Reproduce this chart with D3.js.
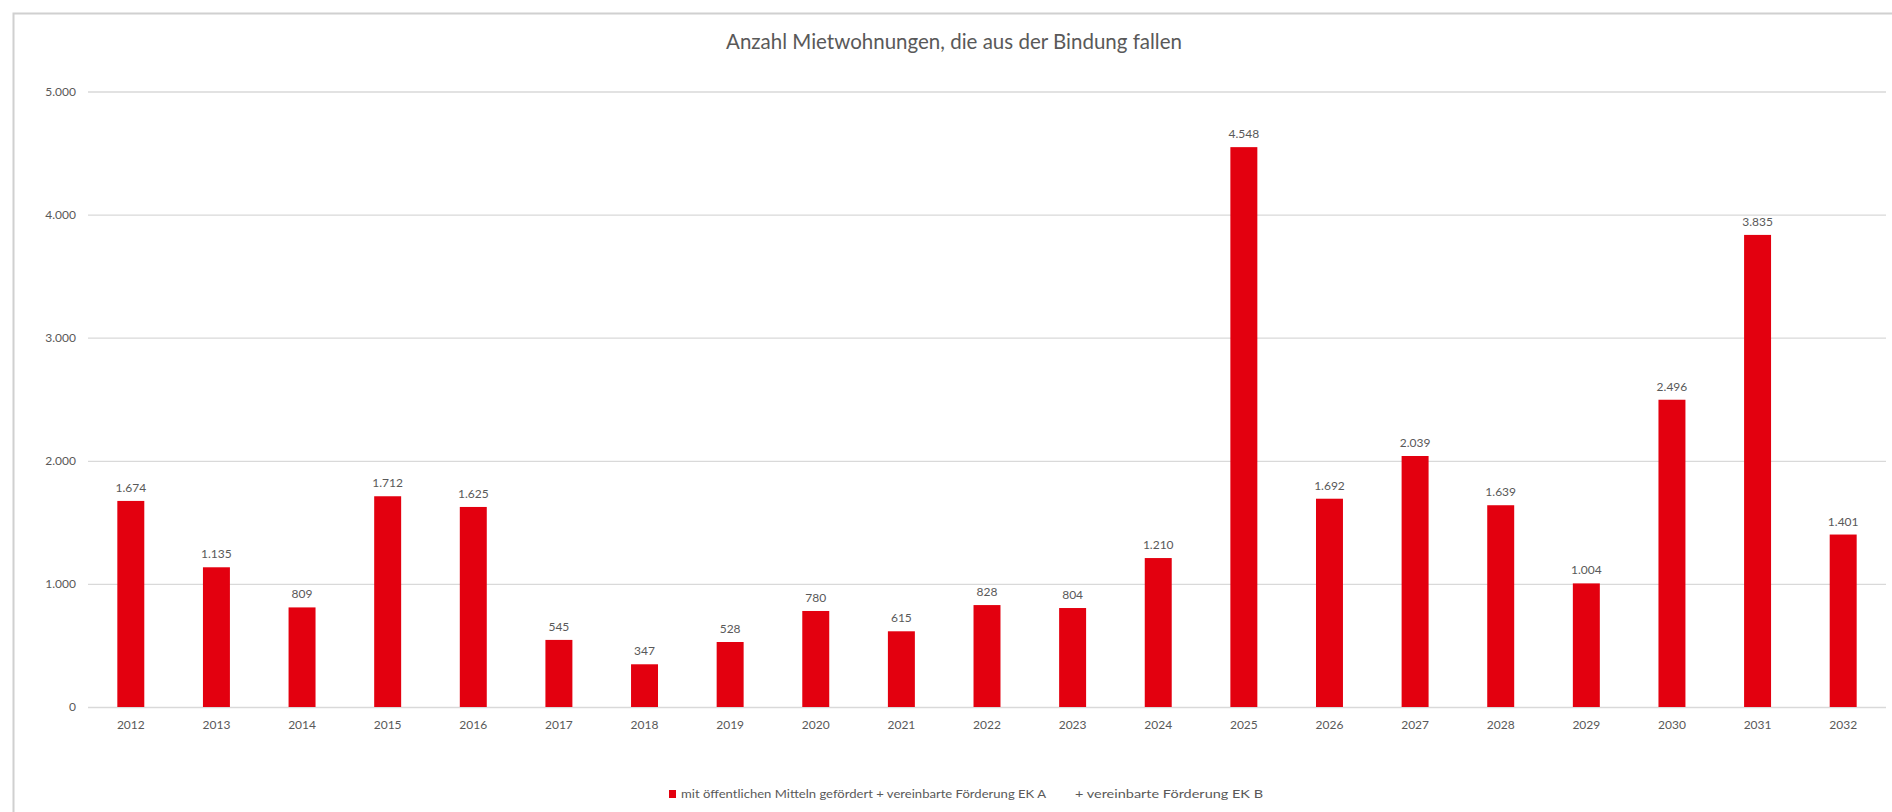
<!DOCTYPE html>
<html>
<head>
<meta charset="utf-8">
<script src="https://d3js.org/d3.v7.min.js"></script>
<style>
  body { margin: 0; background: #fff; }
  svg { display: block; font-family: Lato, "Open Sans", sans-serif; }
</style>
</head>
<body>
<svg width="1892" height="812"></svg>
<script>
// data
const years = ["2012","2013","2014","2015","2016","2017","2018","2019","2020","2021","2022",
               "2023","2024","2025","2026","2027","2028","2029","2030","2031","2032"];
const units = [1674, 1135, 809, 1712, 1625, 545, 347, 528, 780, 615, 828,
               804, 1210, 4548, 1692, 2039, 1639, 1004, 2496, 3835, 1401];
const yTicks = [0, 1000, 2000, 3000, 4000, 5000];
const titleText = "Anzahl Mietwohnungen, die aus der Bindung fallen";
const legendLabels = ["mit öffentlichen Mitteln gefördert + vereinbarte Förderung EK A",
                      "+ vereinbarte Förderung EK B"];

const de = d3.formatLocale({decimal: ",", thousands: ".", grouping: [3], currency: ["", " €"]});
const fmt = de.format(",");

const svg = d3.select("svg");
const width = +svg.attr("width");
const height = +svg.attr("height");

// plot area
const plotLeft = 88, plotRight = 1886, plotTop = 91.5, plotBottom = 707;
const red = "#e3000f";
const grey = "#595959";

// chart frame
svg.append("rect")
    .attr("x", 13.5).attr("y", 13.5)
    .attr("width", width + 20).attr("height", height + 20)
    .attr("fill", "none")
    .attr("stroke", "#d0d0d0")
    .attr("stroke-width", 2);

let x = d3.scaleBand()
    .domain(years)
    .range([plotLeft, plotRight])
    .paddingInner(0.685)
    .paddingOuter(0.3425);

let y = d3.scaleLinear()
    .domain([0, 5000])
    .range([plotBottom, plotTop]);

// gridlines + y labels
let leftAxis = d3.axisLeft(y)
    .tickValues(yTicks)
    .tickSize(-(plotRight - plotLeft))
    .tickPadding(12)
    .tickFormat(fmt);

let gy = svg.append("g")
    .attr("transform", `translate(${plotLeft},0)`)
    .call(leftAxis);
gy.select(".domain").remove();
gy.selectAll(".tick line").attr("stroke", "#d9d9d9").attr("stroke-width", 1.3);
gy.selectAll(".tick text").attr("fill", grey).attr("font-size", 12).attr("font-family", "Lato, sans-serif");

// x labels
let bottomAxis = d3.axisBottom(x).tickSize(0).tickPadding(13);
let gx = svg.append("g")
    .attr("transform", `translate(0,${plotBottom})`)
    .call(bottomAxis);
gx.select(".domain").remove();
gx.selectAll(".tick text").attr("fill", grey).attr("font-size", 12).attr("font-family", "Lato, sans-serif");

// bars
svg.selectAll("rect.bar").data(units).join("rect")
    .attr("class", "bar")
    .attr("x", (d, i) => x(years[i]))
    .attr("y", d => y(d))
    .attr("width", x.bandwidth())
    .attr("height", d => y(0) - y(d))
    .attr("fill", red);

// value labels
svg.selectAll("text.val").data(units).join("text")
    .attr("class", "val")
    .attr("x", (d, i) => x(years[i]) + x.bandwidth() / 2)
    .attr("y", d => y(d) - 9)
    .attr("text-anchor", "middle")
    .attr("fill", grey)
    .attr("font-size", 12)
    .text(d => fmt(d));

// title
svg.append("text")
    .attr("x", 954)
    .attr("y", 49)
    .attr("text-anchor", "middle")
    .attr("fill", grey)
    .attr("font-size", 20.5)
    .text(titleText);

// legend (second series has no visible swatch)
let lg = svg.append("g").attr("transform", "translate(669,794)");
lg.append("rect")
    .attr("x", 0).attr("y", -4)
    .attr("width", 7).attr("height", 8)
    .attr("fill", red);
lg.append("text")
    .attr("x", 12).attr("y", 4)
    .attr("fill", grey)
    .attr("font-size", 12)
    .attr("textLength", 365)
    .attr("lengthAdjust", "spacingAndGlyphs")
    .text(legendLabels[0]);
lg.append("text")
    .attr("x", 406).attr("y", 4)
    .attr("fill", grey)
    .attr("font-size", 12)
    .attr("textLength", 188)
    .attr("lengthAdjust", "spacingAndGlyphs")
    .text(legendLabels[1]);
</script>
</body>
</html>
